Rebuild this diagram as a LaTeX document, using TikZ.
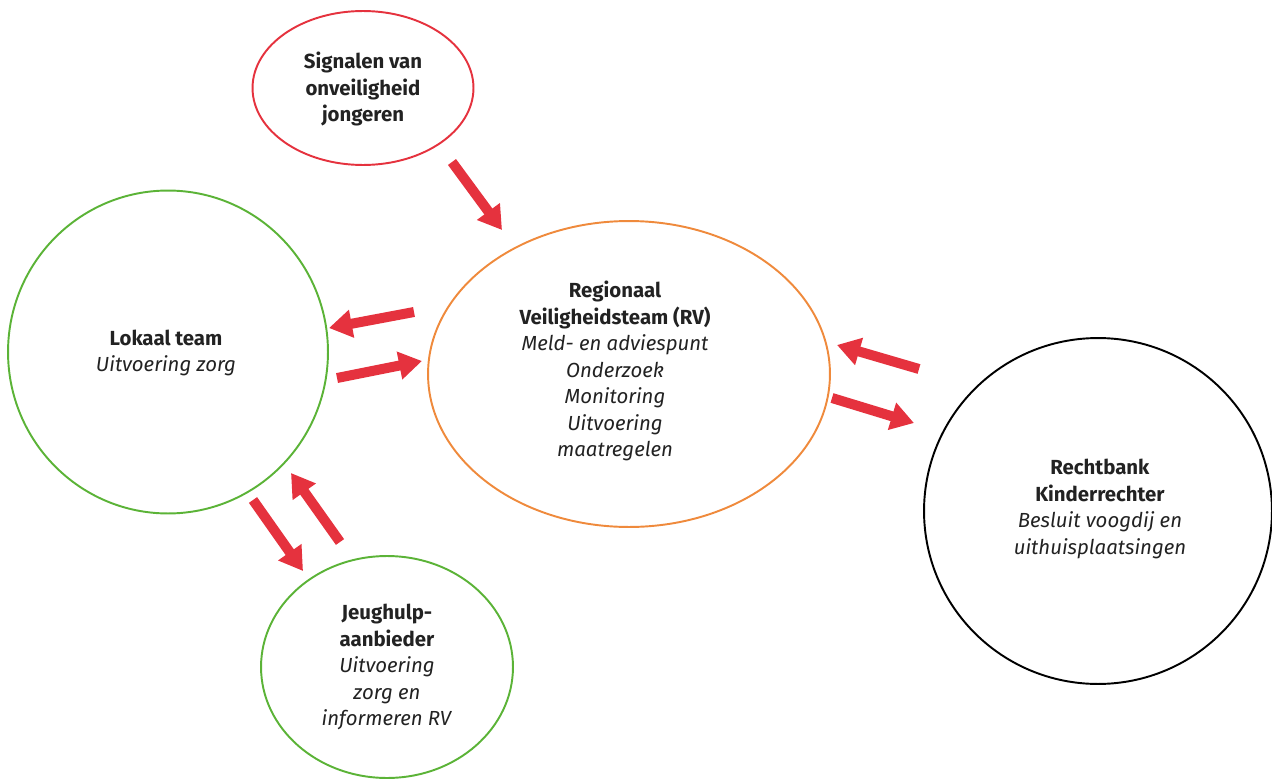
\documentclass[tikz,border=0pt]{standalone}
\usepackage{fontspec}
\setmainfont{Fira Sans}
\usetikzlibrary{shapes.geometric,arrows.meta}
\definecolor{cred}{HTML}{E5323E}
\definecolor{cgreen}{HTML}{5BB337}
\definecolor{corange}{HTML}{EF8A3C}
\definecolor{ctext}{HTML}{222222}
\definecolor{carrow}{HTML}{E5323E}
\tikzset{
  bubble/.style={ellipse, draw, line width=1.1pt, inner sep=0pt, align=center,
    text=ctext, font=\fontsize{11.6pt}{15.1pt}\selectfont},
  label/.style={align=center, text=ctext, font=\fontsize{11.6pt}{15.1pt}\selectfont},
  bigarrow/.style={draw=carrow, line width=0.2cm,
    -{Triangle[width=0.54cm,length=0.46cm]}, shorten <=0pt}
}
\begin{document}
\begin{tikzpicture}[x=0.02cm,y=-0.02cm]
\useasboundingbox (0,0) rectangle (1272,781);
\node[bubble, draw=cred, minimum width=4.42cm, minimum height=3.08cm] (sig) at (363,88) {};
\node[label] (sigt) at (363,89)
  {\textbf{Signalen van}\\\textbf{onveiligheid}\\\textbf{jongeren}};
\node[bubble, draw=cgreen, minimum width=6.4cm, minimum height=6.46cm] (lok) at (168,352) {};
\node[label] (lokt) at (166,353)
  {\textbf{Lokaal team}\\\textit{Uitvoering zorg}};
\node[bubble, draw=corange, minimum width=8.04cm, minimum height=6.12cm] (rv) at (629,374) {};
\node[label] (rvt) at (615,371)
  {\textbf{Regionaal}\\\textbf{Veiligheidsteam (RV)}\\\textit{Meld- en adviespunt}\\\textit{Onderzoek}\\\textit{Monitoring}\\\textit{Uitvoering}\\\textit{maatregelen}};
\node[bubble, draw=black, minimum width=6.96cm, minimum height=6.92cm] (rb) at (1098,511) {};
\node[label] (rbt) at (1100,509)
  {\textbf{Rechtbank}\\\textbf{Kinderrechter}\\\textit{Besluit voogdij en}\\\textit{uithuisplaatsingen}};
\node[bubble, draw=cgreen, minimum width=5.04cm, minimum height=4.44cm] (jh) at (387,667) {};
\node[label] (jht) at (387,667)
  {\textbf{Jeughulp-}\\\textbf{aanbieder}\\\textit{Uitvoering}\\\textit{zorg en}\\\textit{informeren RV}};
% arrow end points
\coordinate (a1s) at (452,162); \coordinate (a1e) at (502,230);
\coordinate (a2s) at (414,312); \coordinate (a2e) at (329,328);
\coordinate (a3s) at (337,378); \coordinate (a3e) at (422,361);
\coordinate (a4s) at (919,369); \coordinate (a4e) at (837,345);
\coordinate (a5s) at (832,398); \coordinate (a5e) at (914,423);
\coordinate (a6s) at (253,500); \coordinate (a6e) at (303,571);
\coordinate (a7s) at (340,542); \coordinate (a7e) at (291,473);
\draw[bigarrow] (a1s) -- (a1e);
\draw[bigarrow] (a2s) -- (a2e);
\draw[bigarrow] (a3s) -- (a3e);
\draw[bigarrow] (a4s) -- (a4e);
\draw[bigarrow] (a5s) -- (a5e);
\draw[bigarrow] (a6s) -- (a6e);
\draw[bigarrow] (a7s) -- (a7e);
\end{tikzpicture}
\end{document}
